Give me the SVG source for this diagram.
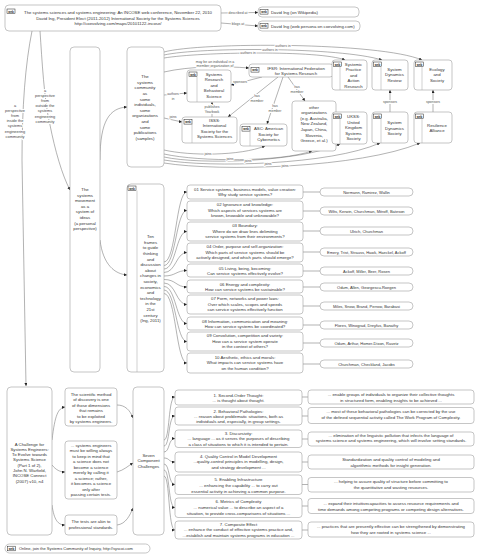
<svg xmlns="http://www.w3.org/2000/svg" xmlns:xlink="http://www.w3.org/1999/xlink" width="480" height="560" viewBox="0 0 480 560">
<style>
.n{fill:#fff;stroke:#a0a0a0;stroke-width:0.6}
.t{font-family:"Liberation Sans",Arial,sans-serif;font-size:4.3px;fill:#333;text-anchor:middle}
.s{text-anchor:start}
.sm{font-size:4px}
.lb{font-family:"Liberation Sans",Arial,sans-serif;font-size:3.5px;fill:#555;text-anchor:middle;paint-order:stroke;stroke:#fff;stroke-width:1.8px;stroke-linejoin:round}
.pl{font-family:"Liberation Sans",Arial,sans-serif;font-size:3.9px;fill:#444;text-anchor:middle;paint-order:stroke;stroke:#fff;stroke-width:2px;stroke-linejoin:round}
.c{fill:none;stroke:#666;stroke-width:0.5;marker-end:url(#a)}
.p{fill:none;stroke:#666;stroke-width:0.5}
.dv{stroke:#a0a0a0;stroke-width:0.5}
.ic{fill:#fff;stroke:#222;stroke-width:0.5}
.it{font-family:"Liberation Sans",Arial,sans-serif;font-size:2.8px;font-weight:bold;fill:#222;text-anchor:middle}
</style>
<defs>
<marker id="a" viewBox="0 0 6 6" refX="6" refY="3" markerWidth="3" markerHeight="3" orient="auto" markerUnits="userSpaceOnUse"><path d="M0,0L6,3L0,6z" fill="#222"/></marker>
<g id="web"><rect class="ic" width="8" height="4.6"/><text class="it" x="4" y="3.5">web</text></g>
</defs>

<g id="connectors">
<path class="p" d="M221,13 L258,12.5" marker-end="url(#a)"/>
<path class="p" d="M221,23 L258,26" marker-end="url(#a)"/>
<path class="c" d="M32,31 Q22,80 22,160 L26,386"/>
<path class="c" d="M40,31 C42,60 44,100 50,125 C55,150 62,175 70,190"/>
<path class="c" d="M100,160 C100,120 110,108 127,107"/>
<path class="c" d="M100,240 C103,265 115,274 127,275"/>
<path class="c" d="M164,52 C200,42 380,42 422,60"/>
<path class="c" d="M164,55 C200,47 340,47 382,60"/>
<path class="c" d="M164,58 C200,52 320,50 345,60"/>
<path class="c" d="M164,72 C190,66 225,66 249,68"/>
<path class="c" d="M262,77 L231,85"/>
<path class="c" d="M278,77 L228,117"/>
<path class="c" d="M283,77 L267,124"/>
<path class="c" d="M288,77 L305,101"/>
<path class="c" d="M164,95 L187,93"/>
<path class="c" d="M212,117 L212,102"/>
<path class="c" d="M164,118 C170,119 176,121 182,122"/>
<path class="c" d="M164,150 C190,156 240,156 265,146"/>
<path class="c" d="M164,154 C200,162 280,162 312,151"/>
<path class="c" d="M164,157 C200,165 300,162 340,144"/>
<path class="c" d="M164,160 C210,168 330,165 380,143"/>
<path class="c" d="M164,163 C220,172 360,168 420,143"/>
<path class="c" d="M390,112 L390,90"/>
<path class="c" d="M433,112 L433,90"/>
<path class="c" d="M164,262 C176,262 176,192 187,192"/>
<path class="c" d="M164,265.5 C176,265.5 176,210.5 187,210.5"/>
<path class="c" d="M164,269 C176,269 176,231.5 187,231.5"/>
<path class="c" d="M164,272.5 C176,272.5 176,252.5 187,252.5"/>
<path class="c" d="M164,276 C176,276 176,270.5 187,270.5"/>
<path class="c" d="M164,279.5 C176,279.5 176,287 187,287"/>
<path class="c" d="M164,283 C176,283 176,304.5 187,304.5"/>
<path class="c" d="M164,286.5 C176,286.5 176,323.5 187,323.5"/>
<path class="c" d="M164,290 C176,290 176,341.5 187,341.5"/>
<path class="c" d="M164,293.5 C176,293.5 176,363 187,363"/>
<path class="p" d="M303,192 H320 M303,211 H320 M303,231 H320 M303,252 H320 M303,271 H320 M303,287 H320 M303,306 H320 M303,325 H320 M303,343 H320 M303,364 H320"/>
<path class="c" d="M52,440 C55,415 58,408 65,407"/>
<path class="c" d="M52,465 C56,470 60,472 65,472"/>
<path class="c" d="M52,505 C54,520 58,525 65,525"/>
<path class="c" d="M117,405 C125,405 130,410 133,418"/>
<path class="c" d="M117,472 C124,470 128,466 133,463"/>
<path class="c" d="M117,525 C126,524 130,515 133,508"/>
<path class="c" d="M164,440 C170,440 168,397 175,397"/>
<path class="c" d="M164,446 C170,446 168,416 175,416"/>
<path class="c" d="M164,452 C170,452 168,438.5 175,438.5"/>
<path class="c" d="M164,458 C170,458 168,462 175,462"/>
<path class="c" d="M164,464 C170,464 168,484.5 175,484.5"/>
<path class="c" d="M164,470 C170,470 168,507.5 175,507.5"/>
<path class="c" d="M164,476 C170,476 168,530 175,530"/>
<path class="p" d="M302,397 H308 M302,416 H308 M302,439 H308 M302,462 H308 M302,484.5 H308 M302,506 H308 M302,530 H308"/>
<text class="lb" x="238" y="14">described at</text>
<text class="lb" x="238" y="25">blogs at</text>
<text class="pl"><tspan x="15" y="106.5">a</tspan><tspan x="15" y="111.7">perspective</tspan><tspan x="15" y="116.9">from</tspan><tspan x="15" y="122.1">inside the</tspan><tspan x="15" y="127.3">systems</tspan><tspan x="15" y="132.5">engineering</tspan><tspan x="15" y="137.7">community</tspan></text>
<text class="pl"><tspan x="45" y="91.5">a</tspan><tspan x="45" y="96.7">perspective</tspan><tspan x="45" y="101.9">from</tspan><tspan x="45" y="107.1">outside the</tspan><tspan x="45" y="112.3">systems</tspan><tspan x="45" y="117.5">engineering</tspan><tspan x="45" y="122.7">community</tspan></text>
<text class="lb" x="283" y="46.5">authors in</text>
<text class="lb" x="270" y="50.5">authors in</text>
<text class="lb" x="248" y="53.5">authors in</text>
<text class="lb"><tspan x="215" y="62.5">may be an individual in a</tspan><tspan x="215" y="67.2">member organization of</tspan></text>
<text class="lb" x="240" y="82.5">sponsors</text>
<text class="lb"><tspan x="257" y="97">has</tspan><tspan x="257" y="101.5">member</tspan></text>
<text class="lb"><tspan x="275" y="107">has</tspan><tspan x="275" y="111.5">member</tspan></text>
<text class="lb"><tspan x="297" y="88">has</tspan><tspan x="297" y="92.5">member</tspan></text>
<text class="lb"><tspan x="173" y="95">authors</tspan><tspan x="173" y="100">in</tspan></text>
<text class="lb"><tspan x="212" y="108">publishes</tspan><tspan x="212" y="112.5">Yearbook</tspan></text>
<text class="lb" x="173" y="118">joins</text>
<text class="lb" x="208" y="155">joins</text>
<text class="lb" x="230" y="159.5">joins</text>
<text class="lb" x="248" y="162">joins</text>
<text class="lb" x="268" y="164.5">joins</text>
<text class="lb" x="285" y="167">joins</text>
<text class="lb" x="390" y="102.5">sponsors</text>
<text class="lb" x="433" y="102.5">sponsors</text>
</g>

<g id="title">
<rect class="n" x="5" y="5" width="216" height="26" rx="4"/>
<use xlink:href="#web" x="7" y="9"/>
<text class="t"><tspan x="118" y="14">The systems sciences and systems engineering: An INCOSE web conference, November 22, 2010</tspan><tspan x="118" y="19.5">David Ing, President Elect (2011-2012) International Society for the Systems Sciences</tspan><tspan x="118" y="25">http://coevolving.com/maps/20101122-incose/</tspan></text>
</g>
<g id="wikipedia">
<rect class="n" x="258" y="7" width="101" height="10" rx="4"/>
<use xlink:href="#web" x="260" y="9.5"/>
<text class="t s" x="271" y="13.5">David Ing (on Wikipedia)</text>
</g>
<g id="coevolving">
<rect class="n" x="258" y="21" width="102" height="10" rx="4"/>
<use xlink:href="#web" x="260" y="23.5"/>
<text class="t s" x="271" y="27.5">David Ing (web persona on coevolving.com)</text>
</g>

<g id="movement">
<rect class="n" x="70" y="47" width="30" height="325" rx="4"/>
<text class="t"><tspan x="85" y="191">The</tspan><tspan x="85" y="196.6">systems</tspan><tspan x="85" y="202.2">movement</tspan><tspan x="85" y="207.8">as a</tspan><tspan x="85" y="213.4">system of</tspan><tspan x="85" y="219">ideas</tspan><tspan x="85" y="224.6">(a personal</tspan><tspan x="85" y="230.2">perspective)</tspan></text>
</g>

<g id="community">
<rect class="n" x="127" y="47" width="37" height="120" rx="4"/>
<text class="t"><tspan x="145" y="78.2">The</tspan><tspan x="145" y="83.8">systems</tspan><tspan x="145" y="89.4">community</tspan><tspan x="145" y="95">as</tspan><tspan x="145" y="100.6">some</tspan><tspan x="145" y="106.2">individuals,</tspan><tspan x="145" y="111.8">some</tspan><tspan x="145" y="117.4">organizations</tspan><tspan x="145" y="123">and</tspan><tspan x="145" y="128.6">some</tspan><tspan x="145" y="134.2">publications</tspan><tspan x="145" y="139.8">(samples)</tspan></text>
</g>

<g id="ifsr">
<rect class="n" x="249" y="64" width="84" height="13" rx="3"/>
<use xlink:href="#web" x="251" y="67.5"/>
<text class="t"><tspan x="296" y="69.5">IFSR: International Federation</tspan><tspan x="296" y="75">for Systems Research</tspan></text>
</g>
<g id="srbs">
<rect class="n" x="187" y="70" width="44" height="32" rx="3"/>
<use xlink:href="#web" x="189" y="72"/>
<line class="dv" x1="197" y1="77" x2="197" y2="102"/>
<text class="t"><tspan x="214" y="75.5">Systems</tspan><tspan x="214" y="81">Research</tspan><tspan x="214" y="86.5">and</tspan><tspan x="214" y="92">Behavioral</tspan><tspan x="214" y="97.5">Science</tspan></text>
</g>
<g id="isss">
<rect class="n" x="182" y="117" width="55" height="26" rx="3"/>
<use xlink:href="#web" x="184" y="119.5"/>
<line class="dv" x1="192" y1="124" x2="192" y2="143"/>
<text class="t"><tspan x="214.5" y="121.5">ISSS:</tspan><tspan x="214.5" y="127">International</tspan><tspan x="214.5" y="132.5">Society for the</tspan><tspan x="214.5" y="138">Systems Sciences</tspan></text>
</g>
<g id="asc">
<rect class="n" x="240" y="124" width="47" height="22" rx="3"/>
<use xlink:href="#web" x="242" y="126.5"/>
<line class="dv" x1="250" y1="131" x2="250" y2="146"/>
<text class="t"><tspan x="268.5" y="130">ASC: American</tspan><tspan x="268.5" y="135.5">Society for</tspan><tspan x="268.5" y="141">Cybernetics</tspan></text>
</g>
<g id="others">
<rect class="n" x="292" y="101" width="44" height="50" rx="3"/>
<text class="t"><tspan x="314" y="108.5">other</tspan><tspan x="314" y="114.1">organizations</tspan><tspan x="314" y="119.7">(e.g. Australia,</tspan><tspan x="314" y="125.3">New Zealand,</tspan><tspan x="314" y="130.9">Japan, China,</tspan><tspan x="314" y="136.5">Slovenia,</tspan><tspan x="314" y="142.1">Greece, et al.)</tspan></text>
</g>
<g id="spar">
<rect class="n" x="332" y="60" width="35" height="30" rx="3"/>
<use xlink:href="#web" x="333.5" y="62"/>
<line class="dv" x1="340" y1="67" x2="340" y2="90"/>
<text class="t"><tspan x="353.5" y="65.8">Systemic</tspan><tspan x="353.5" y="71.3">Practice</tspan><tspan x="353.5" y="76.8">and</tspan><tspan x="353.5" y="82.3">Action</tspan><tspan x="353.5" y="87.8">Research</tspan></text>
</g>
<g id="sdr">
<rect class="n" x="372" y="60" width="36" height="30" rx="3"/>
<use xlink:href="#web" x="373.5" y="62"/>
<line class="dv" x1="381" y1="67" x2="381" y2="90"/>
<text class="t"><tspan x="394.5" y="70.8">System</tspan><tspan x="394.5" y="76.3">Dynamics</tspan><tspan x="394.5" y="81.8">Review</tspan></text>
</g>
<g id="ecology">
<rect class="n" x="414" y="60" width="38" height="30" rx="3"/>
<use xlink:href="#web" x="415.5" y="62"/>
<line class="dv" x1="422" y1="67" x2="422" y2="90"/>
<text class="t"><tspan x="437" y="70.8">Ecology</tspan><tspan x="437" y="76.3">and</tspan><tspan x="437" y="81.8">Society</tspan></text>
</g>
<g id="ukss">
<rect class="n" x="332" y="112" width="35" height="32" rx="3"/>
<use xlink:href="#web" x="333.5" y="114"/>
<line class="dv" x1="340" y1="119" x2="340" y2="144"/>
<text class="t"><tspan x="353.5" y="118.2">UKSS:</tspan><tspan x="353.5" y="123.7">United</tspan><tspan x="353.5" y="129.2">Kingdom</tspan><tspan x="353.5" y="134.7">Systems</tspan><tspan x="353.5" y="140.2">Society</tspan></text>
</g>
<g id="sds">
<rect class="n" x="372" y="112" width="36" height="31" rx="3"/>
<use xlink:href="#web" x="373.5" y="114"/>
<line class="dv" x1="381" y1="119" x2="381" y2="143"/>
<text class="t"><tspan x="394.5" y="124">System</tspan><tspan x="394.5" y="129.5">Dynamics</tspan><tspan x="394.5" y="135">Society</tspan></text>
</g>
<g id="resilience">
<rect class="n" x="414" y="112" width="38" height="31" rx="3"/>
<use xlink:href="#web" x="415.5" y="114"/>
<line class="dv" x1="422" y1="119" x2="422" y2="143"/>
<text class="t"><tspan x="437" y="126.5">Resilience</tspan><tspan x="437" y="132">Alliance</tspan></text>
</g>

<g id="tenframes">
<rect class="n" x="127" y="184" width="37" height="188" rx="4"/>
<use xlink:href="#web" x="128" y="186"/>
<line class="dv" x1="137" y1="190.6" x2="137" y2="372"/>
<text class="t"><tspan x="150.5" y="238.2">Ten</tspan><tspan x="150.5" y="243.8">frames</tspan><tspan x="150.5" y="249.4">to guide</tspan><tspan x="150.5" y="255">thinking</tspan><tspan x="150.5" y="260.6">and</tspan><tspan x="150.5" y="266.2">discussion</tspan><tspan x="150.5" y="271.8">about</tspan><tspan x="150.5" y="277.4">changes in</tspan><tspan x="150.5" y="283">society,</tspan><tspan x="150.5" y="288.6">economics</tspan><tspan x="150.5" y="294.2">and</tspan><tspan x="150.5" y="299.8">technology</tspan><tspan x="150.5" y="305.4">in the</tspan><tspan x="150.5" y="311">21st</tspan><tspan x="150.5" y="316.6">century</tspan><tspan x="150.5" y="322.2">(Ing, 2011)</tspan></text>
</g>

<g id="f01"><rect class="n" x="187" y="185" width="116" height="14" rx="3"/><text class="t"><tspan x="245" y="190.6">01 Service systems, business models, value creation:</tspan><tspan x="245" y="196.1">Why study service systems?</tspan></text></g>
<g id="f02"><rect class="n" x="187" y="201" width="116" height="19" rx="3"/><text class="t"><tspan x="245" y="206.2">02 Ignorance and knowledge:</tspan><tspan x="245" y="211.7">Which aspects of services systems are</tspan><tspan x="245" y="217.2">known, knowable and unknowable?</tspan></text></g>
<g id="f03"><rect class="n" x="187" y="222" width="116" height="19" rx="3"/><text class="t"><tspan x="245" y="227.2">03 Boundary:</tspan><tspan x="245" y="232.7">Where do we draw lines delimiting</tspan><tspan x="245" y="238.2">service systems from their environments?</tspan></text></g>
<g id="f04"><rect class="n" x="187" y="243" width="116" height="19" rx="3"/><text class="t"><tspan x="245" y="248.2">04 Order, purpose and self-organization:</tspan><tspan x="245" y="253.7">Which parts of service systems should be</tspan><tspan x="245" y="259.2">actively designed, and which parts should emerge?</tspan></text></g>
<g id="f05"><rect class="n" x="187" y="264" width="116" height="13" rx="3"/><text class="t"><tspan x="245" y="269.6">05 Living, being, becoming:</tspan><tspan x="245" y="275.1">Can service systems effectively evolve?</tspan></text></g>
<g id="f06"><rect class="n" x="187" y="280" width="116" height="13" rx="3"/><text class="t"><tspan x="245" y="285.6">06 Energy and complexity:</tspan><tspan x="245" y="291.1">How can service systems be sustainable?</tspan></text></g>
<g id="f07"><rect class="n" x="187" y="295" width="116" height="19" rx="3"/><text class="t"><tspan x="245" y="300.2">07 Form, networks and power laws:</tspan><tspan x="245" y="305.7">Over which scales, scopes and speeds</tspan><tspan x="245" y="311.2">can service systems effectively function</tspan></text></g>
<g id="f08"><rect class="n" x="187" y="317" width="116" height="13" rx="3"/><text class="t"><tspan x="245" y="322.6">08 Information, communication and meaning:</tspan><tspan x="245" y="328.1">How can service systems be coordinated?</tspan></text></g>
<g id="f09"><rect class="n" x="187" y="332" width="116" height="19" rx="3"/><text class="t"><tspan x="245" y="337.2">09 Convolution, competition and variety:</tspan><tspan x="245" y="342.7">How can a service system operate</tspan><tspan x="245" y="348.2">in the context of others?</tspan></text></g>
<g id="f10"><rect class="n" x="187" y="353" width="116" height="20" rx="3"/><text class="t"><tspan x="245" y="358.6">10 Aesthetic, ethics and morals:</tspan><tspan x="245" y="364.1">What impacts can service systems have</tspan><tspan x="245" y="369.6">on the human condition?</tspan></text></g>

<g id="a01"><rect class="n" x="320" y="188" width="93" height="8" rx="4"/><text class="t sm" x="366.5" y="193.5">Normann, Ramirez, Wallin</text></g>
<g id="a02"><rect class="n" x="320" y="207" width="93" height="8" rx="4"/><text class="t sm" x="366.5" y="212.5">Wilts, Kerwin, Churchman, Mitroff, Bateson</text></g>
<g id="a03"><rect class="n" x="320" y="227" width="93" height="8" rx="4"/><text class="t sm" x="366.5" y="232.5">Ulrich, Churchman</text></g>
<g id="a04"><rect class="n" x="320" y="248" width="93" height="8" rx="4"/><text class="t sm" x="366.5" y="253.5">Emery, Trist, Strauss, Hawk, Haeckel, Ackoff</text></g>
<g id="a05"><rect class="n" x="320" y="267" width="93" height="8" rx="4"/><text class="t sm" x="366.5" y="272.5">Ackoff, Miller, Beer, Rosen</text></g>
<g id="a06"><rect class="n" x="320" y="283" width="93" height="8" rx="4"/><text class="t sm" x="366.5" y="288.5">Odum, Allen, Georgescu-Roegen</text></g>
<g id="a07"><rect class="n" x="320" y="302" width="93" height="8" rx="4"/><text class="t sm" x="366.5" y="307.5">Miles, Snow, Brand, Perrow, Barabasi</text></g>
<g id="a08"><rect class="n" x="320" y="321" width="93" height="8" rx="4"/><text class="t sm" x="366.5" y="326.5">Flores, Winograd, Dreyfus, Banathy</text></g>
<g id="a09"><rect class="n" x="320" y="339" width="93" height="8" rx="4"/><text class="t sm" x="366.5" y="344.5">Odum, Arthur, Homer-Dixon, Ravetz</text></g>
<g id="a10"><rect class="n" x="320" y="360" width="93" height="8" rx="4"/><text class="t sm" x="366.5" y="365.5">Churchman, Checkland, Jacobs</text></g>

<g id="challenge">
<rect class="n" x="7" y="387" width="45" height="148" rx="4"/>
<text class="t"><tspan x="29.5" y="445.5">A Challenge for</tspan><tspan x="29.5" y="450.8">Systems Engineers:</tspan><tspan x="29.5" y="456.1">To Evolve towards</tspan><tspan x="29.5" y="461.4">Systems Science</tspan><tspan x="29.5" y="466.7">(Part 1 of 2),</tspan><tspan x="29.5" y="472">John N. Warfield,</tspan><tspan x="29.5" y="477.3">INCOSE Connect</tspan><tspan x="29.5" y="482.6">(2007) v10, n4</tspan></text>
</g>
<g id="scientific">
<rect class="n" x="65" y="388" width="52" height="38" rx="3"/>
<text class="t"><tspan x="91" y="395.5">The scientific method</tspan><tspan x="91" y="401">of discovery  is one</tspan><tspan x="91" y="406.5">of those dimensions</tspan><tspan x="91" y="412">that remains</tspan><tspan x="91" y="417.5">to be exploited</tspan><tspan x="91" y="423">by systems engineers.</tspan></text>
</g>
<g id="willing">
<rect class="n" x="65" y="441" width="52" height="58" rx="3"/>
<text class="t"><tspan x="91" y="446.5">... systems engineers</tspan><tspan x="91" y="452.05">must be willing always</tspan><tspan x="91" y="457.6">to keep in mind  that</tspan><tspan x="91" y="463.15">a science  does not</tspan><tspan x="91" y="468.7">become a science</tspan><tspan x="91" y="474.25">merely by calling it</tspan><tspan x="91" y="479.8">a science; rather,</tspan><tspan x="91" y="485.35">it becomes a  science</tspan><tspan x="91" y="490.9">only after</tspan><tspan x="91" y="496.45">passing certain tests.</tspan></text>
</g>
<g id="tests">
<rect class="n" x="65" y="515" width="52" height="20" rx="3"/>
<text class="t"><tspan x="91" y="523.2">The tests are  akin to</tspan><tspan x="91" y="528.8">professional standards.</tspan></text>
</g>
<g id="seven">
<rect class="n" x="133" y="387" width="31" height="148" rx="4"/>
<text class="t"><tspan x="148.5" y="456.5">Seven</tspan><tspan x="148.5" y="462">Component</tspan><tspan x="148.5" y="467.5">Challenges</tspan></text>
</g>

<g id="c1"><rect class="n" x="175" y="390" width="127" height="15" rx="3"/><text class="t"><tspan x="238.5" y="396.5">1. Second-Order Thought:</tspan><tspan x="238.5" y="402.1">... is thought about thought.</tspan></text></g>
<g id="c2"><rect class="n" x="175" y="407" width="127" height="18" rx="3"/><text class="t"><tspan x="238.5" y="412.5">2. Behavioral Pathologies:</tspan><tspan x="238.5" y="418">... reason about problematic situations,   both as</tspan><tspan x="238.5" y="423.3">individuals  and,  especially,  in group settings.</tspan></text></g>
<g id="c3"><rect class="n" x="175" y="430" width="127" height="17.5" rx="3"/><text class="t"><tspan x="238.5" y="434.8">3. Discursivity:</tspan><tspan x="238.5" y="440.4">... language ... as it serves the  purposes of describing</tspan><tspan x="238.5" y="446">a class of situations  to which it is intended to pertain.</tspan></text></g>
<g id="c4"><rect class="n" x="175" y="452" width="127" height="20" rx="3"/><text class="t"><tspan x="238.5" y="457.8">4. Quality Control in Model Development</tspan><tspan x="238.5" y="463.4">...quality-control principles in modelling,  design,</tspan><tspan x="238.5" y="469">and strategy development ...</tspan></text></g>
<g id="c5"><rect class="n" x="175" y="475" width="127" height="19.5" rx="3"/><text class="t"><tspan x="238.5" y="481.3">5. Enabling Infrastructure</tspan><tspan x="238.5" y="486.9">... enhancing the  capability ... to carry out</tspan><tspan x="238.5" y="492.5">essential activity in achieving a  common purpose.</tspan></text></g>
<g id="c6"><rect class="n" x="175" y="498" width="127" height="19.5" rx="3"/><text class="t"><tspan x="238.5" y="503.3">6. Metrics of Complexity</tspan><tspan x="238.5" y="508.9">... numerical value ... to describe an aspect  of a</tspan><tspan x="238.5" y="514.5">situation, to provide cross-comparisons    of situations ...</tspan></text></g>
<g id="c7"><rect class="n" x="175" y="521" width="127" height="18" rx="3"/><text class="t"><tspan x="238.5" y="525.8">7. Composite Effect</tspan><tspan x="238.5" y="531.3">... enhance the conduct of effective systems practice and,</tspan><tspan x="238.5" y="536.8">...establish and maintain  systems programs in education ...</tspan></text></g>

<g id="r1"><rect class="n" x="308" y="390" width="166" height="14" rx="3"/><text class="t"><tspan x="391" y="396.3">... enable groups of individuals to organize their  collective thoughts</tspan><tspan x="391" y="402">in structured form,  enabling insights to be achieved ...</tspan></text></g>
<g id="r2"><rect class="n" x="308" y="407.5" width="166" height="16" rx="3"/><text class="t"><tspan x="391" y="413">... most of these behavioral  pathologies can be corrected by the use</tspan><tspan x="391" y="418.7">of the defined sequential activity called  The Work Program of Complexity.</tspan></text></g>
<g id="r3"><rect class="n" x="308" y="432" width="166" height="14" rx="3"/><text class="t"><tspan x="391" y="436.6">... elimination of the linguistic pollution  that infects the language of</tspan><tspan x="391" y="442.3">systems science  and systems engineering, which will   involve setting standards.</tspan></text></g>
<g id="r4"><rect class="n" x="308" y="455" width="166" height="14" rx="3"/><text class="t"><tspan x="391" y="460.8">Standardization and  quality control of modeling and</tspan><tspan x="391" y="466.5">algorithmic  methods for insight generation.</tspan></text></g>
<g id="r5"><rect class="n" x="308" y="477.5" width="166" height="14.5" rx="3"/><text class="t"><tspan x="391" y="483.3">... helping to assure  quality of structure before committing to</tspan><tspan x="391" y="489">the quantitative and wasting resources.</tspan></text></g>
<g id="r6"><rect class="n" x="308" y="498.5" width="166" height="15" rx="3"/><text class="t"><tspan x="391" y="504.8">... expand their intuitivecapacities to assess resource requirements    and</tspan><tspan x="391" y="510.5">time demands among competing programs    or competing design alternatives.</tspan></text></g>
<g id="r7"><rect class="n" x="308" y="522" width="166" height="15" rx="3"/><text class="t"><tspan x="391" y="528.2">... practices that are presently effective can be strengthened  by demonstrating</tspan><tspan x="391" y="533.9">how they are rooted in systems science ...</tspan></text></g>

<g id="online">
<rect class="n" x="5" y="544" width="145" height="9" rx="4.5"/>
<use xlink:href="#web" x="7.5" y="546.2"/>
<text class="t s sm" x="19" y="550.2">Online, join the Systems Community of Inquiry, http://syscoi.com</text>
</g>
</svg>
